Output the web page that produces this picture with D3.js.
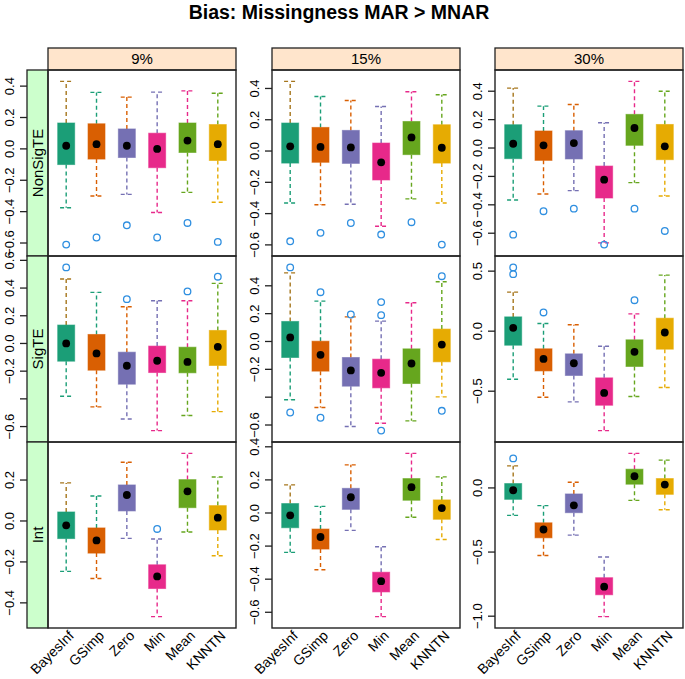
<!DOCTYPE html>
<html>
<head>
<meta charset="utf-8">
<script src="https://cdn.jsdelivr.net/npm/d3@7"></script>
<style>
  html, body { margin: 0; padding: 0; background: #fff; }
  svg { display: block; font-family: "Liberation Sans", Arial, Helvetica, sans-serif; }
</style>
</head>
<body>
<svg id="chart" width="685" height="679"></svg>
<script>
// ---------------- data ----------------
const methods = ["BayesInf", "GSimp", "Zero", "Min", "Mean", "KNNTN"];
const rates = ["9%", "15%", "30%"];
const effects = ["NonSigTE", "SigTE", "Int"];
const boxColors = ["#1B9E77", "#D95F02", "#7570B3", "#E7298A", "#66A61E", "#E6AB02"];
// whisker colours (recycled palette, shifted by one)
const upperWhiskerColors = ["#A6761D", "#1B9E77", "#D95F02", "#7570B3", "#E7298A", "#66A61E"];
const lowerWhiskerColors = ["#1B9E77", "#D95F02", "#7570B3", "#E7298A", "#66A61E", "#E6AB02"];

// each row: [lower whisker, Q1, median, Q3, upper whisker]
const nonSig9 = [[-0.375,-0.100,0.020,0.165,0.430],[-0.300,-0.065,0.030,0.160,0.360],[-0.290,-0.055,0.020,0.127,0.330],[-0.406,-0.120,0.000,0.100,0.362],[-0.277,-0.023,0.053,0.165,0.370],[-0.340,-0.074,0.030,0.155,0.355]];
const nonSig9Out = [[-0.610],[-0.565],[-0.487],[-0.565],[-0.472],[-0.593]];
const nonSig15 = [[-0.332,-0.077,0.030,0.179,0.445],[-0.343,-0.072,0.026,0.151,0.349],[-0.340,-0.079,0.023,0.132,0.323],[-0.481,-0.185,-0.072,0.051,0.285],[-0.306,-0.023,0.087,0.189,0.379],[-0.332,-0.077,0.021,0.168,0.360]];
const nonSig15Out = [[-0.577],[-0.523],[-0.460],[-0.534],[-0.455],[-0.598]];
const nonSig30 = [[-0.366,-0.075,0.030,0.164,0.422],[-0.324,-0.087,0.019,0.120,0.295],[-0.300,-0.077,0.035,0.122,0.307],[-0.668,-0.352,-0.223,-0.127,0.178],[-0.244,0.019,0.141,0.237,0.469],[-0.338,-0.082,0.012,0.166,0.400]];
const nonSig30Out = [[-0.610],[-0.445],[-0.427],[-0.680],[-0.427],[-0.584]];

const sig9 = [[-0.381,-0.128,0.000,0.133,0.465],[-0.458,-0.193,-0.072,0.065,0.369],[-0.545,-0.294,-0.161,-0.063,0.265],[-0.629,-0.210,-0.125,-0.019,0.308],[-0.520,-0.212,-0.133,-0.027,0.308],[-0.492,-0.159,-0.024,0.094,0.434]];
const sig9Out = [[0.549],[],[0.320],[],[0.376],[0.482]];
const sig15 = [[-0.419,-0.115,0.029,0.144,0.493],[-0.474,-0.213,-0.096,0.002,0.290],[-0.611,-0.321,-0.208,-0.115,0.177],[-0.587,-0.333,-0.225,-0.127,0.146],[-0.570,-0.302,-0.158,-0.053,0.278],[-0.398,-0.146,-0.022,0.089,0.429]];
const sig15Out = [[0.532,-0.510],[0.354,-0.548],[0.194],[0.283,0.189,-0.640],[],[0.469,-0.498]];
const sig30 = [[-0.400,-0.117,0.028,0.119,0.325],[-0.550,-0.331,-0.231,-0.147,0.064],[-0.589,-0.369,-0.267,-0.189,0.053],[-0.828,-0.617,-0.514,-0.389,-0.125],[-0.544,-0.294,-0.172,-0.072,0.144],[-0.469,-0.150,-0.011,0.108,0.467]];
const sig30Out = [[0.531,0.475],[0.156],[],[],[0.258],[]];

const int9 = [[-0.246,-0.086,-0.021,0.044,0.186],[-0.281,-0.157,-0.095,-0.034,0.122],[-0.085,0.049,0.127,0.176,0.287],[-0.467,-0.330,-0.271,-0.214,-0.088],[-0.054,0.065,0.145,0.202,0.330],[-0.170,-0.044,0.016,0.075,0.215]];
const int9Out = [[],[],[],[-0.039],[],[]];
const int15 = [[-0.238,-0.089,-0.014,0.057,0.170],[-0.343,-0.218,-0.145,-0.097,0.040],[-0.105,0.022,0.095,0.149,0.291],[-0.626,-0.477,-0.412,-0.358,-0.204],[-0.026,0.077,0.156,0.208,0.360],[-0.160,-0.038,0.030,0.079,0.218]];
const int15Out = [[],[],[],[],[],[]];
const int30 = [[-0.214,-0.089,-0.018,0.034,0.172],[-0.527,-0.389,-0.324,-0.272,-0.138],[-0.368,-0.193,-0.136,-0.047,0.044],[-1.003,-0.833,-0.770,-0.700,-0.538],[-0.097,0.029,0.091,0.146,0.269],[-0.170,-0.050,0.026,0.073,0.217]];
const int30Out = [[0.230],[],[],[],[],[]];

// y tick values and which of them carry a label, per panel
const ticksStep02 = [-0.6, -0.4, -0.2, 0.0, 0.2, 0.4];
const ticksSig9 = [-0.6, -0.4, -0.2, 0.0, 0.2, 0.4, 0.6];
const ticksHalf = [-0.5, 0.0, 0.5];
const ticksInt9 = [-0.4, -0.2, 0.0, 0.2];
const ticksInt30 = [-1.0, -0.5, 0.0];
const labelsSig9 = ["-0.6", "", "-0.2", "0.0", "0.2", "0.4", "0.6"];
const labelsSig15 = ["-0.6", "", "-0.2", "0.0", "0.2", "0.4"];

const panels = [
  {row: 0, col: 0, stats: nonSig9,  out: nonSig9Out,  ticks: ticksStep02},
  {row: 0, col: 1, stats: nonSig15, out: nonSig15Out, ticks: ticksStep02},
  {row: 0, col: 2, stats: nonSig30, out: nonSig30Out, ticks: ticksStep02},
  {row: 1, col: 0, stats: sig9,     out: sig9Out,     ticks: ticksSig9, labels: labelsSig9},
  {row: 1, col: 1, stats: sig15,    out: sig15Out,    ticks: ticksStep02, labels: labelsSig15},
  {row: 1, col: 2, stats: sig30,    out: sig30Out,    ticks: ticksHalf},
  {row: 2, col: 0, stats: int9,     out: int9Out,     ticks: ticksInt9},
  {row: 2, col: 1, stats: int15,    out: int15Out,    ticks: ticksStep02},
  {row: 2, col: 2, stats: int30,    out: int30Out,    ticks: ticksInt30}
];

// ---------------- layout ----------------
const colLeft = [48, 272, 495];
const panelW = 188;
const rowTop = [70, 256, 442];
const panelH = 186;
const stripTop = 48, stripH = 22;
const leftStripX = 27, leftStripW = 21;
const border = "#222";
const outlierColor = "#2F8FE0";

const svg = d3.select("#chart");

// title
svg.append("text")
  .attr("x", 339).attr("y", 19)
  .attr("text-anchor", "middle")
  .attr("font-weight", "bold")
  .attr("font-size", 19.5)
  .text("Bias: Missingness MAR > MNAR");

// top strips
rates.forEach((r, c) => {
  svg.append("rect")
    .attr("x", colLeft[c]).attr("y", stripTop)
    .attr("width", panelW).attr("height", stripH)
    .attr("fill", "#FFE5CC").attr("stroke", border).attr("stroke-width", 1.3);
  svg.append("text")
    .attr("x", colLeft[c] + panelW / 2).attr("y", stripTop + stripH / 2)
    .attr("dy", "0.36em").attr("text-anchor", "middle")
    .attr("font-size", 15).text(r);
});

// left strips
effects.forEach((e, r) => {
  svg.append("rect")
    .attr("x", leftStripX).attr("y", rowTop[r])
    .attr("width", leftStripW).attr("height", panelH)
    .attr("fill", "#CCFFCC").attr("stroke", border).attr("stroke-width", 1.3);
  svg.append("text")
    .attr("transform", `translate(${leftStripX + leftStripW / 2},${rowTop[r] + panelH / 2}) rotate(-90)`)
    .attr("dy", "0.36em").attr("text-anchor", "middle")
    .attr("font-size", 15).text(e);
});

const x = d3.scalePoint().domain(methods).range([0, panelW]).padding(0.6);
const boxW = x.step() * 0.56;
const capW = boxW * 0.72;

panels.forEach(p => {
  const left = colLeft[p.col], top = rowTop[p.row];
  const g = svg.append("g").attr("transform", `translate(${left},${top})`);

  // y domain: data extent padded by 7% (lattice style)
  const vals = [];
  p.stats.forEach((s, i) => { vals.push(s[0], s[4]); p.out[i].forEach(v => vals.push(v)); });
  const [mn, mx] = d3.extent(vals);
  const pad = (mx - mn) * 0.07;
  const y = d3.scaleLinear().domain([mn - pad, mx + pad]).range([panelH, 0]);

  // whiskers, boxes, medians, outliers
  p.stats.forEach((s, i) => {
    const m = methods[i];
    const cx = x(m);
    const [lo, q1, med, q3, hi] = s;
    const dash = "4,3";
    // upper whisker + cap
    g.append("line").attr("x1", cx).attr("x2", cx).attr("y1", y(q3)).attr("y2", y(hi))
      .attr("stroke", upperWhiskerColors[i]).attr("stroke-width", 1.4).attr("stroke-dasharray", dash);
    g.append("line").attr("x1", cx - capW / 2).attr("x2", cx + capW / 2).attr("y1", y(hi)).attr("y2", y(hi))
      .attr("stroke", upperWhiskerColors[i]).attr("stroke-width", 1.4).attr("stroke-dasharray", dash);
    // lower whisker + cap
    g.append("line").attr("x1", cx).attr("x2", cx).attr("y1", y(q1)).attr("y2", y(lo))
      .attr("stroke", lowerWhiskerColors[i]).attr("stroke-width", 1.4).attr("stroke-dasharray", dash);
    g.append("line").attr("x1", cx - capW / 2).attr("x2", cx + capW / 2).attr("y1", y(lo)).attr("y2", y(lo))
      .attr("stroke", lowerWhiskerColors[i]).attr("stroke-width", 1.4).attr("stroke-dasharray", dash);
    // box
    g.append("rect")
      .attr("x", cx - boxW / 2).attr("y", y(q3))
      .attr("width", boxW).attr("height", y(q1) - y(q3))
      .attr("fill", boxColors[i]).attr("stroke", boxColors[i]).attr("stroke-opacity", 0.6).attr("stroke-width", 1);
    // median dot
    g.append("circle").attr("cx", cx).attr("cy", y(med)).attr("r", 3.9).attr("fill", "#000");
    // outliers
    p.out[i].forEach(v => {
      g.append("circle").attr("cx", cx).attr("cy", y(v)).attr("r", 3.3)
        .attr("fill", "none").attr("stroke", outlierColor).attr("stroke-width", 1.3);
    });
  });

  // panel border
  g.append("rect").attr("x", 0).attr("y", 0).attr("width", panelW).attr("height", panelH)
    .attr("fill", "none").attr("stroke", border).attr("stroke-width", 1.4);

  // y axis (ticks and rotated labels)
  const axisX = p.col === 0 ? leftStripX : left;
  const ya = svg.append("g");
  p.ticks.forEach((t, k) => {
    const ty = top + y(t);
    ya.append("line").attr("x1", axisX - 7).attr("x2", axisX).attr("y1", ty).attr("y2", ty)
      .attr("stroke", border).attr("stroke-width", 1.3);
    const lab = p.labels ? p.labels[k] : d3.format(".1f")(t);
    if (lab) {
      ya.append("text")
        .attr("transform", `translate(${axisX - 18},${ty}) rotate(-90)`)
        .attr("dy", "0.36em").attr("text-anchor", "middle")
        .attr("font-size", 13)
        .text(lab.replace("-", "\u2212"));
    }
  });

  // x labels on the bottom row
  if (p.row === 2) {
    methods.forEach(m => {
      svg.append("text")
        .attr("transform", `translate(${left + x(m) + 5},${top + panelH + 5}) rotate(-45)`)
        .attr("dy", "0.36em").attr("text-anchor", "end")
        .attr("font-size", 14).text(m);
    });
  }
});
</script>
</body>
</html>
